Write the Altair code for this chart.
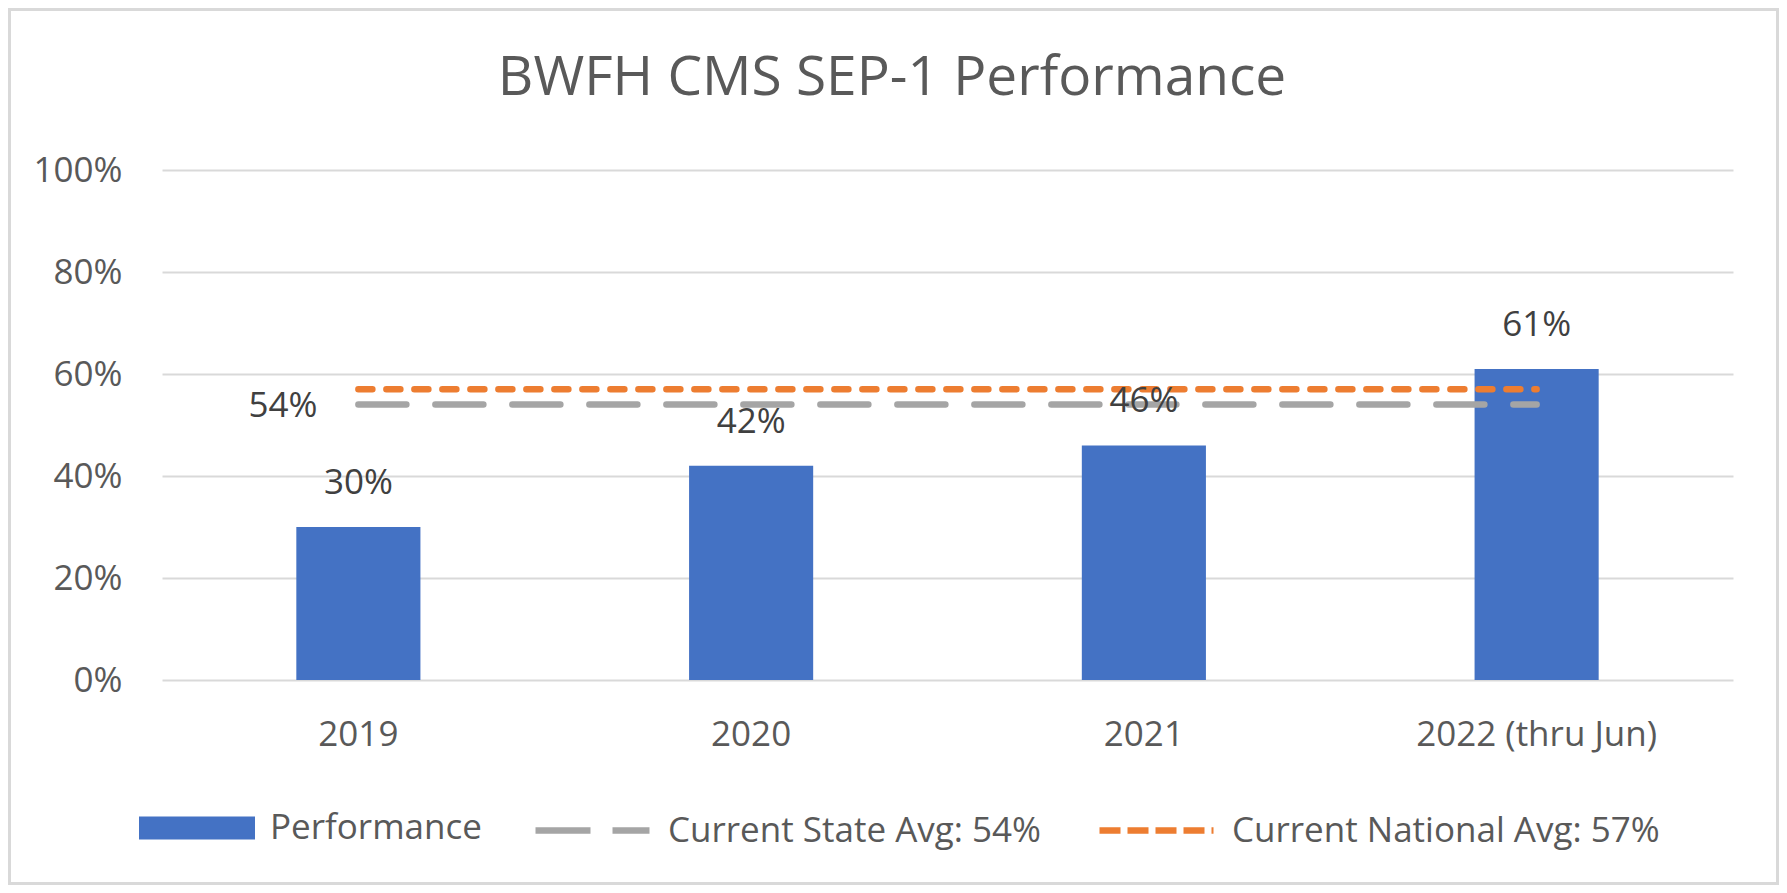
import altair as alt
import pandas as pd

# ---- data ----
categories = ["2019", "2020", "2021", "2022 (thru Jun)"]
performance = [0.30, 0.42, 0.46, 0.61]
state_avg = [0.54, 0.54, 0.54, 0.54]
national_avg = [0.57, 0.57, 0.57, 0.57]
series_names = ["Performance", "Current State Avg: 54%", "Current National Avg: 57%"]
y_ticks = [0, 0.2, 0.4, 0.6, 0.8, 1.0]
title_text = "BWFH CMS SEP-1 Performance"

# ---- style ----
FONT = "Open Sans"
TEXT = "#595959"
LABEL = "#404040"
BLUE = "#4472C4"
GRAY = "#A5A5A5"
ORANGE = "#ED7D31"
GRID = "#D9D9D9"
FS = 35

W, H = 1571, 510
PAD = {"left": 154, "top": 162, "right": 46, "bottom": 205}

bar_df = pd.DataFrame({"category": categories, "value": performance, "series": series_names[0]})
state_df = pd.DataFrame({"category": categories, "value": state_avg, "series": series_names[1]})
nat_df = pd.DataFrame({"category": categories, "value": national_avg, "series": series_names[2]})

x_enc = alt.X(
    "category:N",
    sort=categories,
    scale=alt.Scale(domain=categories, paddingInner=0.684, paddingOuter=0.342),
    axis=alt.Axis(title=None, labelAngle=0, domain=False, ticks=False, tickSize=0, grid=False,
                  labelFont=FONT, labelFontSize=FS, labelColor=TEXT, labelPadding=65,
                  labelBaseline="alphabetic", labelLimit=1000),
)
y_enc = alt.Y(
    "value:Q",
    scale=alt.Scale(domain=[0, 1], nice=False),
    axis=alt.Axis(title=None, values=y_ticks, format=".0%", domain=False, ticks=False, tickSize=0,
                  gridColor=GRID, gridWidth=2, labelFont=FONT, labelFontSize=FS, labelColor=TEXT,
                  labelPadding=40),
)

legend_common = dict(orient="none", title=None, padding=0, labelFont=FONT, labelFontSize=FS,
                     labelColor=TEXT, labelLimit=1000, labelOffset=15)

bars = alt.Chart(bar_df).mark_bar().encode(
    x=x_enc, y=y_enc,
    color=alt.Color("series:N", scale=alt.Scale(domain=[series_names[0]], range=[BLUE]),
                    legend=alt.Legend(symbolType="M-1,-0.2H1V0.2H-1Z", symbolSize=116 * 116,
                                      symbolStrokeWidth=0, symbolOpacity=1,
                                      legendX=-23, legendY=600, **legend_common)),
)

state_line = alt.Chart(state_df).mark_line(strokeWidth=6.5, strokeDash=[48, 29], strokeCap="round").encode(
    x=x_enc, y=y_enc,
    stroke=alt.Stroke("series:N", scale=alt.Scale(domain=[series_names[1]], range=[GRAY]),
                      legend=alt.Legend(symbolType="stroke", symbolSize=114 * 114, symbolStrokeWidth=6.5,
                                        symbolDash=[55, 22], legendX=370, legendY=600, **legend_common)),
)

nat_line = alt.Chart(nat_df).mark_line(strokeWidth=6.5, strokeDash=[14, 14], strokeCap="round").encode(
    x=x_enc, y=y_enc,
    stroke=alt.Stroke("series:N", scale=alt.Scale(domain=[series_names[2]], range=[ORANGE]),
                      legend=alt.Legend(symbolType="stroke", symbolSize=114 * 114, symbolStrokeWidth=6.5,
                                        symbolDash=[21, 7], legendX=934, legendY=600, **legend_common)),
)

bar_labels = alt.Chart(bar_df).mark_text(font=FONT, fontSize=FS, color=LABEL, baseline="alphabetic", dy=-33).encode(
    x=x_enc, y=y_enc, text=alt.Text("value:Q", format=".0%"),
)

state_label = alt.Chart(state_df.iloc[[0]]).mark_text(font=FONT, fontSize=FS, color=LABEL, align="right",
                                                      baseline="middle", dx=-41, dy=1).encode(
    x=x_enc, y=y_enc, text=alt.Text("value:Q", format=".0%"),
)

title = alt.Chart(pd.DataFrame({"t": [title_text]})).mark_text(
    font=FONT, fontSize=55, color=TEXT, align="center", baseline="alphabetic"
).encode(x=alt.value(730), y=alt.value(-75), text="t:N")

border = alt.Chart(pd.DataFrame({"b": [0]})).mark_rect(fillOpacity=0, stroke=GRID, strokeWidth=3).encode(
    x=alt.value(-152.5), x2=alt.value(W + PAD["right"] - 1.5),
    y=alt.value(-PAD["top"] + 1.5), y2=alt.value(H + PAD["bottom"] - 1.5),
)

chart = (
    alt.layer(border, bars, state_line, nat_line, bar_labels, state_label, title)
    .resolve_scale(stroke="independent")
    .properties(width=W, height=H, autosize=alt.AutoSizeParams(type="none"), padding=PAD,
                background="white")
    .configure_view(stroke=None)
)

chart.save("out.html", embed_options={"renderer": "svg", "actions": False})
